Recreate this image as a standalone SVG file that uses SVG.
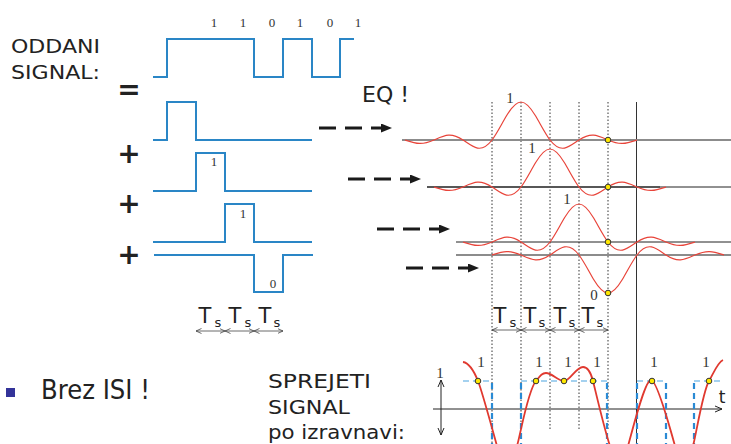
<svg xmlns="http://www.w3.org/2000/svg" xmlns:xlink="http://www.w3.org/1999/xlink" width="731" height="444" viewBox="0 0 731 444">
  <style>
    .sans { font-family: "DejaVu Sans", "Liberation Sans", sans-serif; fill: #222; }
    .serif { font-family: "Liberation Serif", "DejaVu Serif", serif; fill: #333; }
    .op { font-family: "DejaVu Sans", sans-serif; font-weight: bold; fill: #222; font-size: 28px; text-anchor: middle; }
    .sig { fill: none; stroke: #2a86c6; stroke-width: 2; }
    .pulse { fill: none; stroke: #e8443a; stroke-width: 1.2; }
    .base-gray { stroke: #8c8c8c; stroke-width: 2.2; }
    .base-black { stroke: #222; stroke-width: 1; }
    .grid { stroke: #333; stroke-width: 1; stroke-dasharray: 1.5 2; }
    .dash-arrow { stroke: #1a1a1a; stroke-width: 3; stroke-dasharray: 17 9; fill: none; }
    .span { stroke: #444; stroke-width: 0.8; fill: none; }
    .dot { fill: #ffe800; stroke: #333; stroke-width: 1; }
    .ideal-h { stroke: #4aa3e0; stroke-width: 1.2; stroke-dasharray: 6 4; }
    .ideal-v { stroke: #2a8ad4; stroke-width: 2.2; stroke-dasharray: 6 4; }
  </style>
  <defs>
    <!-- sinc pulse, Ts = 29 px, amplitude 38 px, centred on (0,0) -->
    <path id="sinc" class="pulse" d="M-116,0 C-111.17,1.583 -106.33,3.289 -101.5,3.454 C-96.67,3.619 -91.83,2.111 -87,0 C-82.17,-2.111 -77.33,-4.516 -72.5,-4.838 C-67.67,-5.16 -62.83,-3.167 -58,0 C-53.17,3.167 -48.33,7.168 -43.5,8.064 C-38.67,8.96 -33.83,6.333 -29,0 C-24.17,-6.333 -19.33,-16.127 -14.5,-24.19 C-9.667,-32.253 -4.833,-38 0,-38 C4.833,-38 9.667,-32.253 14.5,-24.19 C19.33,-16.127 24.17,-6.333 29,0 C33.83,6.333 38.67,8.96 43.5,8.064 C48.33,7.168 53.17,3.167 58,0 C62.83,-3.167 67.67,-5.16 72.5,-4.838 C77.33,-4.516 82.17,-2.111 87,0 C91.83,2.111 96.67,3.619 101.5,3.454 C106.33,3.289 111.17,1.583 116,0"/>
    <marker id="head" markerUnits="userSpaceOnUse" markerWidth="11" markerHeight="9" refX="3" refY="4.5" orient="auto">
      <path d="M0,0 L11,4.5 L0,9 z" fill="#1a1a1a"/>
    </marker>
    <marker id="tick" markerUnits="userSpaceOnUse" markerWidth="6" markerHeight="6" refX="5.5" refY="3" orient="auto-start-reverse">
      <path d="M0,0.5 L5.5,3 L0,5.5" fill="none" stroke="#444" stroke-width="0.8"/>
    </marker>
    <marker id="axhead" markerUnits="userSpaceOnUse" markerWidth="8" markerHeight="8" refX="7" refY="4" orient="auto-start-reverse">
      <path d="M0,1 L7,4 L0,7" fill="none" stroke="#222" stroke-width="1"/>
    </marker>
  </defs>

  <!-- transmitted signal and its decomposition -->
  <g id="transmitted">
    <text class="sans" x="11" y="53" font-size="19" textLength="89" lengthAdjust="spacingAndGlyphs">ODDANI</text>
    <text class="sans" x="11" y="79" font-size="19" textLength="89" lengthAdjust="spacingAndGlyphs">SIGNAL:</text>
    <g class="serif" font-size="13" text-anchor="middle">
      <text x="214" y="27">1</text>
      <text x="243" y="27">1</text>
      <text x="272" y="27">0</text>
      <text x="300" y="27">1</text>
      <text x="330" y="27">0</text>
      <text x="358" y="27">1</text>
    </g>
    <path class="sig" d="M153,77 H167 V39 H254 V77 H283 V39 H312 V77 H340 V39 H354"/>
  </g>

  <g id="ops">
    <text class="op" x="129" y="99">=</text>
    <text class="op" x="129" y="163">+</text>
    <text class="op" x="129" y="213">+</text>
    <text class="op" x="129" y="264">+</text>
  </g>

  <g id="symbol-1">
    <path class="sig" d="M153,140 H167 V102 H196 V140 H312"/>
  </g>
  <g id="symbol-2">
    <path class="sig" d="M153,191 H196 V153 H225 V191 H312"/>
    <text class="serif" x="214" y="166" font-size="13" text-anchor="middle">1</text>
  </g>
  <g id="symbol-3">
    <path class="sig" d="M153,242 H225 V204 H254 V242 H312"/>
    <text class="serif" x="243" y="218" font-size="13" text-anchor="middle">1</text>
  </g>
  <g id="symbol-4">
    <path class="sig" d="M154,255 H254 V292 H283 V255 H313"/>
    <text class="serif" x="273" y="288" font-size="13" text-anchor="middle">0</text>
  </g>

  <g id="ts-left">
    <g class="sans" text-anchor="middle">
      <text x="205" y="323" font-size="21">T</text>
      <text x="218" y="327" font-size="13">s</text>
      <text x="235" y="323" font-size="21">T</text>
      <text x="248" y="327" font-size="13">s</text>
      <text x="265" y="323" font-size="21">T</text>
      <text x="277" y="327" font-size="13">s</text>
    </g>
    <line class="span" x1="196" y1="331" x2="225" y2="331" marker-start="url(#tick)" marker-end="url(#tick)"/>
    <line class="span" x1="225" y1="331" x2="254" y2="331" marker-start="url(#tick)" marker-end="url(#tick)"/>
    <line class="span" x1="254" y1="331" x2="283" y2="331" marker-start="url(#tick)" marker-end="url(#tick)"/>
  </g>

  <text id="eq-label" class="sans" x="362" y="102" font-size="22">EQ !</text>

  <!-- connectors -->
  <g id="connectors">
    <line class="dash-arrow" x1="319" y1="128" x2="384" y2="128" marker-end="url(#head)"/>
    <line class="dash-arrow" x1="348" y1="179" x2="413" y2="179" marker-end="url(#head)"/>
    <line class="dash-arrow" x1="377" y1="229" x2="442" y2="229" marker-end="url(#head)"/>
    <line class="dash-arrow" x1="406" y1="268" x2="471" y2="268" marker-end="url(#head)"/>
  </g>

  <!-- sampling grid -->
  <g id="grid">
    <line class="grid" x1="492" y1="102" x2="492" y2="444"/>
    <line class="grid" x1="521" y1="102" x2="521" y2="430"/>
    <line class="grid" x1="550" y1="102" x2="550" y2="430"/>
    <line class="grid" x1="579" y1="102" x2="579" y2="430"/>
    <line class="grid" x1="608" y1="102" x2="608" y2="430"/>
    <line x1="636.5" y1="102" x2="636.5" y2="444" stroke="#333" stroke-width="1"/>
  </g>

  <!-- equalised pulses -->
  <g id="pulse-1">
    <line class="base-gray" x1="402" y1="140" x2="731" y2="140"/>
    <use xlink:href="#sinc" transform="translate(521,140)"/>
    <text class="serif" x="510" y="103" font-size="15" text-anchor="middle">1</text>
    <circle class="dot" cx="608" cy="140" r="2.8"/>
  </g>
  <g id="pulse-2">
    <line class="base-gray" x1="427" y1="187" x2="660" y2="187"/>
    <line class="base-black" x1="427" y1="187" x2="731" y2="187"/>
    <use xlink:href="#sinc" transform="translate(550,187)"/>
    <text class="serif" x="532" y="153" font-size="15" text-anchor="middle">1</text>
    <circle class="dot" cx="608" cy="187" r="2.8"/>
  </g>
  <g id="pulse-3">
    <line class="base-black" x1="456" y1="242" x2="731" y2="242"/>
    <use xlink:href="#sinc" transform="translate(579,242)"/>
    <text class="serif" x="567" y="204" font-size="15" text-anchor="middle">1</text>
    <circle class="dot" cx="608" cy="242" r="2.8"/>
  </g>
  <g id="pulse-4">
    <line class="base-gray" x1="456" y1="255" x2="731" y2="255"/>
    <use xlink:href="#sinc" transform="translate(608,255) scale(1,-1)"/>
    <text class="serif" x="594" y="300" font-size="15" text-anchor="middle">0</text>
    <circle class="dot" cx="608" cy="293" r="2.8"/>
  </g>

  <g id="ts-right">
    <g class="sans" text-anchor="middle">
      <text x="500" y="323" font-size="21">T</text>
      <text x="513" y="327" font-size="13">s</text>
      <text x="530" y="323" font-size="21">T</text>
      <text x="542" y="327" font-size="13">s</text>
      <text x="560" y="323" font-size="21">T</text>
      <text x="572" y="327" font-size="13">s</text>
      <text x="588" y="323" font-size="21">T</text>
      <text x="600" y="327" font-size="13">s</text>
    </g>
    <line class="span" x1="492" y1="330" x2="521" y2="330" marker-start="url(#tick)" marker-end="url(#tick)"/>
    <line class="span" x1="521" y1="330" x2="550" y2="330" marker-start="url(#tick)" marker-end="url(#tick)"/>
    <line class="span" x1="550" y1="330" x2="579" y2="330" marker-start="url(#tick)" marker-end="url(#tick)"/>
    <line class="span" x1="579" y1="330" x2="608" y2="330" marker-start="url(#tick)" marker-end="url(#tick)"/>
  </g>

  <!-- bullet -->
  <g id="bullet">
    <rect x="6" y="388" width="9" height="9" fill="#333399"/>
    <text class="sans" x="41" y="399" font-size="27" textLength="109" lengthAdjust="spacingAndGlyphs">Brez ISI !</text>
  </g>

  <!-- received signal after equalisation -->
  <g id="received">
    <text class="sans" x="268" y="388" font-size="20" textLength="103" lengthAdjust="spacingAndGlyphs">SPREJETI</text>
    <text class="sans" x="268" y="414" font-size="20" textLength="82" lengthAdjust="spacingAndGlyphs">SIGNAL</text>
    <text class="sans" x="268" y="439" font-size="20" textLength="137" lengthAdjust="spacingAndGlyphs">po izravnavi:</text>

    <line x1="433" y1="409" x2="722" y2="409" stroke="#222" stroke-width="1" marker-end="url(#axhead)"/>
    <line x1="441" y1="380" x2="441" y2="435" stroke="#222" stroke-width="1" marker-start="url(#axhead)" marker-end="url(#axhead)"/>
    <text class="serif" x="440" y="378" font-size="15" text-anchor="middle">1</text>
    <text class="sans" x="722" y="403" font-size="17" text-anchor="middle">t</text>

    <g id="ideal-levels">
      <line class="ideal-h" x1="463" y1="381" x2="492" y2="381"/>
      <line class="ideal-h" x1="521" y1="381" x2="607" y2="381"/>
      <line class="ideal-h" x1="637" y1="381" x2="666" y2="381"/>
      <line class="ideal-h" x1="694" y1="381" x2="723" y2="381"/>
      <line class="ideal-v" x1="492" y1="383" x2="492" y2="444"/>
      <line class="ideal-v" x1="521" y1="383" x2="521" y2="444"/>
      <line class="ideal-v" x1="607" y1="383" x2="607" y2="444"/>
      <line class="ideal-v" x1="637" y1="383" x2="637" y2="444"/>
      <line class="ideal-v" x1="666" y1="383" x2="666" y2="444"/>
      <line class="ideal-v" x1="694" y1="383" x2="694" y2="444"/>
    </g>

    <path fill="none" stroke="#e0392f" stroke-width="1.8" d="M463,362 C469,363 474,371 478,381 C482,391 492,428 497,446 C500,456 503,464 507,464 C511,464 514,456 517,446 C521,432 528,390 536,381 C540,376 542,373 546,373 C552,373 558,381 564,381 C570,381 576,367 583,367 C588,367 591,373 593,381 C596,393 604,428 610,446 C613,456 616,464 619,464 C622,464 625,456 628,446 C633,428 645,380 651,380 C657,380 670,428 675,446 C678,456 681,464 684,464 C687,464 690,456 693,446 C697,430 703,391 709,381 C714,372 718,362 723,360"/>

    <g class="serif" font-size="15" text-anchor="middle">
      <text x="481" y="367">1</text>
      <text x="539" y="367">1</text>
      <text x="568" y="367">1</text>
      <text x="597" y="367">1</text>
      <text x="654" y="367">1</text>
      <text x="706" y="367">1</text>
    </g>
    <circle class="dot" cx="478" cy="381" r="2.8"/>
    <circle class="dot" cx="536" cy="381" r="2.8"/>
    <circle class="dot" cx="564" cy="381" r="2.8"/>
    <circle class="dot" cx="593" cy="381" r="2.8"/>
    <circle class="dot" cx="652" cy="381" r="2.8"/>
    <circle class="dot" cx="709" cy="381" r="2.8"/>
  </g>
</svg>
